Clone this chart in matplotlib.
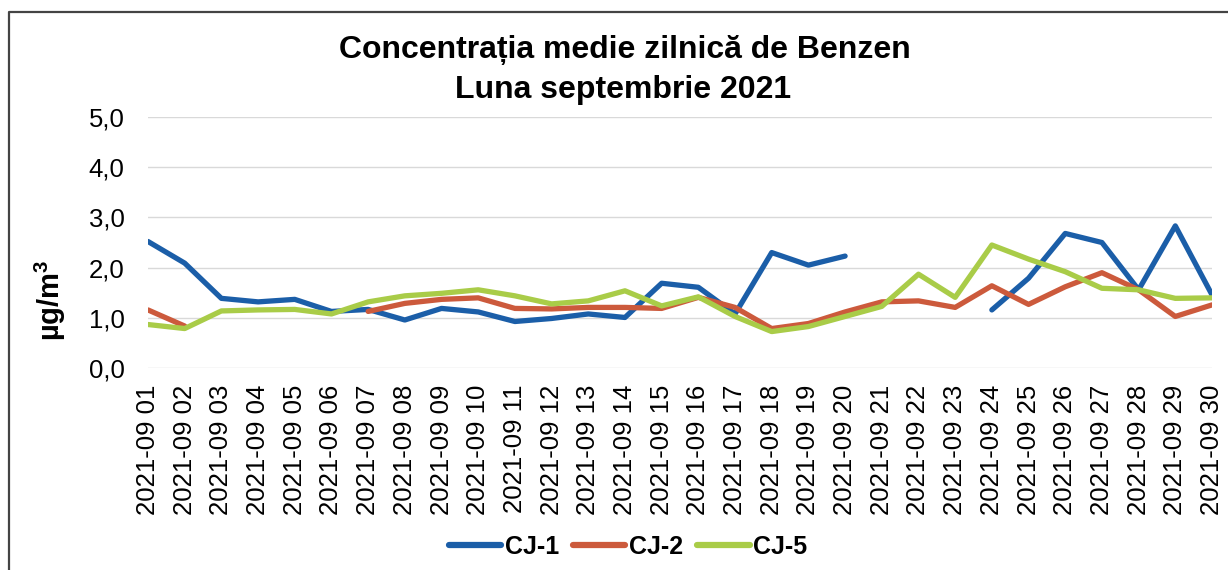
import numpy as np
import matplotlib
matplotlib.use("Agg")
import matplotlib.pyplot as plt
from matplotlib.lines import Line2D

plt.rcParams['font.family'] = ['Liberation Sans', 'DejaVu Sans']
plt.rcParams['mathtext.fontset'] = 'custom'
plt.rcParams['mathtext.rm'] = 'Liberation Sans:bold'
plt.rcParams['mathtext.bf'] = 'Liberation Sans:bold'

dates = [f"2021-09 {d:02d}" for d in range(1, 31)]
nan = np.nan
cj1 = [2.52, 2.09, 1.39, 1.32, 1.37, 1.13, 1.17, 0.96, 1.19, 1.12,
       0.93, 0.99, 1.08, 1.01, 1.69, 1.61, 1.08, 2.30, 2.05, 2.23,
       nan, nan, nan, 1.16, 1.79, 2.68, 2.50, 1.56, 2.83, 1.46]
cj2 = [1.16, 0.84, nan, nan, nan, nan, 1.13, 1.29, 1.37, 1.40,
       1.19, 1.18, 1.21, 1.21, 1.19, 1.41, 1.21, 0.79, 0.89, 1.12,
       1.32, 1.34, 1.21, 1.64, 1.27, 1.62, 1.90, 1.56, 1.03, 1.26]
cj5 = [0.87, 0.79, 1.14, 1.16, 1.17, 1.08, 1.32, 1.44, 1.49, 1.56,
       1.44, 1.28, 1.34, 1.54, 1.24, 1.42, 1.03, 0.73, 0.83, 1.03,
       1.23, 1.87, 1.41, 2.45, 2.17, 1.92, 1.59, 1.56, 1.39, 1.40]
series_names = ["CJ-1", "CJ-2", "CJ-5"]
colors = ["#1B5EA8", "#CC5A3C", "#A9CC48"]

W, H = 1228, 570
fig = plt.figure(figsize=(W / 100, H / 100), dpi=100)
fig.patch.set_facecolor("white")
ax = fig.add_axes([148 / W, 1 - 368.3 / H, (1212 - 148) / W, (368.3 - 116.7) / H])

x = np.arange(len(dates))
for vals, name, c in zip([cj1, cj2, cj5], series_names, colors):
    ax.plot(x, vals, color=c, lw=3.8, label=name, solid_capstyle="round",
            solid_joinstyle="round")

ax.set_xlim(0, len(dates) - 1)
ax.set_ylim(0, 5)
yt = np.arange(0, 5.01, 1.0)
ax.set_yticks(yt)
ax.set_yticklabels([f"{v:.1f}".replace(".", ",") for v in yt])
ax.set_xticks(x)
ax.set_xticklabels(dates, rotation=90)
ax.tick_params(axis="y", length=0, labelsize=18.5, pad=17)
ax.tick_params(axis="x", length=0, labelsize=18.5, pad=12)
ax.grid(axis="y", color="#d9d9d9", lw=1)
ax.set_axisbelow(True)
for s in ax.spines.values():
    s.set_visible(False)

fig.text(0.509, 1 - 50 / H, "Concentrația medie zilnică de Benzen",
         ha="center", va="center", fontsize=23, fontweight="bold")
fig.text(0.507, 1 - 90 / H, "Luna septembrie 2021",
         ha="center", va="center", fontsize=23, fontweight="bold")
fig.text(50 / W, 1 - 300 / H, r"µg/m$^{3}$", rotation=90, ha="center", va="center",
         fontsize=21, fontweight="bold")

leg = fig.legend(loc="center", bbox_to_anchor=(628 / W, 1 - 547 / H), ncol=3,
                 frameon=False, handlelength=2.1, handletextpad=0.15,
                 columnspacing=0.55, prop={"size": 18, "weight": "bold"})
for h in leg.get_lines():
    h.set_linewidth(4.5)

# outer chart frame (left and top edges visible)
fig.add_artist(Line2D([9 / W, 9 / W, 1.0], [0.0, 1 - 12 / H, 1 - 12 / H],
                      transform=fig.transFigure, color="#444444", lw=1.6))

fig.savefig("out.png", dpi=100, facecolor="white")
